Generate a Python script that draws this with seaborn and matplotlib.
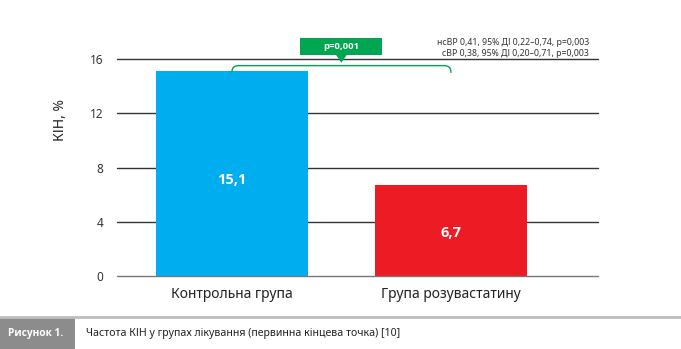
import matplotlib
matplotlib.use("Agg")
import matplotlib.pyplot as plt
from matplotlib.patches import Rectangle, Polygon, PathPatch
from matplotlib.path import Path
import seaborn as sns
import pandas as pd

groups = ["Контрольна група", "Група розувастатину"]
kin_rates = [15.1, 6.7]
bar_labels = ["15,1", "6,7"]
bar_colors = ["#00AEEF", "#ED1C24"]
y_ticks = [0, 4, 8, 12, 16]
p_label = "p=0,001"
stats_lines = ["нсВР 0,41, 95% ДІ 0,22–0,74, p=0,003",
               "сВР 0,38, 95% ДІ 0,20–0,71, p=0,003"]
figure_tag = "Рисунок 1."
caption = "Частота КІН у групах лікування (первинна кінцева точка) [10]"
y_title = "КІН, %"

sns.set_theme(style="white")
plt.rcParams["font.family"] = ["Noto Sans", "DejaVu Sans"]
BOLD = ["Open Sans", "DejaVu Sans"]

df = pd.DataFrame({"group": groups, "rate": kin_rates})

fig = plt.figure(figsize=(6.81, 3.49), dpi=100)
ax = fig.add_axes([0.1718, 0.2092, 0.7063, 0.6209])

sns.barplot(data=df, x="group", y="rate", hue="group", palette=bar_colors,
            width=0.694, saturation=1, legend=False, ax=ax, zorder=3,
            linewidth=0)

ax.set_ylim(0, 16)
ax.set_xlim(-0.525, 1.672)
ax.set_yticks(y_ticks)
ax.set_yticklabels([str(t) for t in y_ticks], fontsize=8.5, color="#333333")
for t in y_ticks:
    ax.axhline(t, color="#777777" if t == 0 else "#333333", lw=1.0,
               zorder=1 if t else 4, clip_on=False)
for s in ax.spines.values():
    s.set_visible(False)
ax.tick_params(axis="y", length=0, pad=10)
ax.tick_params(axis="x", length=0, pad=8, labelsize=10, labelcolor="#222222")
ax.set_xlabel("")
ax.set_ylabel(y_title, fontsize=10, color="#222222")
ax.yaxis.set_label_coords(-0.102, 0.72)

# value labels inside the bars
for i, (v, lab) in enumerate(zip(kin_rates, bar_labels)):
    ax.text(i, v * 0.47, lab, ha="center", va="center", color="white",
            fontsize=10.5, fontweight="bold", family=BOLD, zorder=5)

# bracket between the two groups
green = "#00A651"
top, end, rx, ry = 15.53, 15.0, 0.03, 0.45
verts = [(0, end), (0, top - ry), (0, top), (rx, top), (1 - rx, top),
         (1, top), (1, top - ry), (1, end)]
codes = [Path.MOVETO, Path.LINETO, Path.CURVE3, Path.CURVE3, Path.LINETO,
         Path.CURVE3, Path.CURVE3, Path.LINETO]
ax.add_patch(PathPatch(Path(verts, codes), fill=False, edgecolor=green,
                       lw=1.0, clip_on=False, zorder=6))

# p-value badge
ax.add_patch(Rectangle((0.31, 16.32), 0.375, 1.26, facecolor=green,
                       edgecolor="none", clip_on=False, zorder=6))
ax.add_patch(Polygon([(0.475, 16.33), (0.525, 16.33), (0.5, 15.75)],
                     closed=True, facecolor=green, edgecolor="none",
                     clip_on=False, zorder=6))
ax.text(0.4975, 16.95, p_label, ha="center", va="center", color="white",
        fontsize=6.8, fontweight="bold", family=BOLD, zorder=7, clip_on=False)

# hazard ratio summary
ax.text(1.63, 17.23, stats_lines[0], ha="right", va="center", fontsize=6.3,
        color="#333333", clip_on=False)
ax.text(1.63, 16.45, stats_lines[1], ha="right", va="center", fontsize=6.3,
        color="#333333", clip_on=False)

# caption strip
fig.add_artist(plt.Line2D([0, 1], [1 - 317 / 349] * 2, color="#BDBDBD",
                          lw=2, transform=fig.transFigure))
fig.add_artist(Rectangle((0, 0), 75 / 681, 31 / 349, facecolor="#8C8C8C",
                         edgecolor="none", transform=fig.transFigure))
fig.text(8 / 681, 15.5 / 349, figure_tag, ha="left", va="center",
         color="white", fontsize=7.3, fontweight="bold", family=BOLD)
fig.text(86 / 681, 15.5 / 349, caption, ha="left", va="center",
         color="#222222", fontsize=7.6)

fig.savefig("out.png", dpi=100)
